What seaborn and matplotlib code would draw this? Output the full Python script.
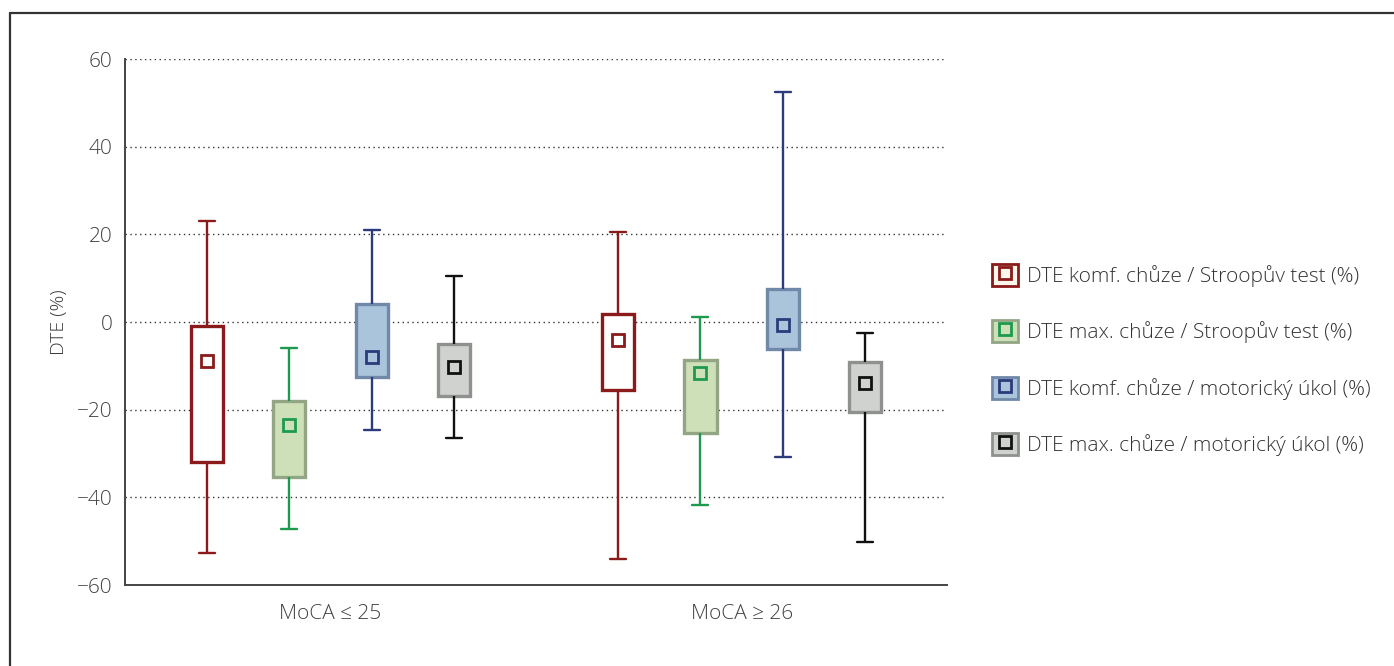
import numpy as np
import pandas as pd
import matplotlib
matplotlib.use("Agg")
import matplotlib.pyplot as plt
from matplotlib.patches import Patch
from matplotlib.lines import Line2D
from matplotlib.legend_handler import HandlerTuple
import seaborn as sns

# Groups and series
groups = ["MoCA \u2264 25", "MoCA \u2265 26"]
series = ["DTE komf. chůze / Stroopův test (%)",
          "DTE max. chůze / Stroopův test (%)",
          "DTE komf. chůze / motorický úkol (%)",
          "DTE max. chůze / motorický úkol (%)"]

# summary values, one list per group, in series order
whisk_low = [[-52.7, -47.2, -24.6, -26.5], [-54.0, -41.8, -30.8, -50.2]]
box_low   = [[-32.0, -35.4, -12.5, -16.9], [-15.5, -25.3, -6.2, -20.5]]
centre    = [[-8.9, -23.5, -8.0, -10.3], [-4.1, -11.6, -0.7, -13.9]]
box_high  = [[-0.9, -18.0, 4.1, -5.0], [1.8, -8.7, 7.5, -9.1]]
whisk_high = [[23.0, -5.9, 21.0, 10.5], [20.5, 1.1, 52.5, -2.5]]

face_cols = ["#ffffff", "#cde0b8", "#aac4dc", "#d0d2d0"]
legend_faces = ["#fdf6ea", "#cde0b8", "#aac4dc", "#d0d2d0"]
edge_cols = ["#8b1a1a", "#92a585", "#7189a8", "#8e918e"]
line_cols = ["#8b1a1a", "#1e9a4e", "#2c3b7c", "#111111"]

# five values per box -> quartiles fall exactly on the read values
rows = []
for gi, g in enumerate(groups):
    for si, s in enumerate(series):
        for v in [whisk_low[gi][si], box_low[gi][si], centre[gi][si],
                  box_high[gi][si], whisk_high[gi][si]]:
            rows.append({"group": g, "series": s, "value": v})
df = pd.DataFrame(rows)

sns.set_theme(style="white")
plt.rcParams["font.family"] = ["Open Sans", "DejaVu Sans"]
plt.rcParams["font.weight"] = "light"

fig = plt.figure(figsize=(13.94, 6.66), dpi=100)
ax = fig.add_axes([0.0897, 0.1216, 0.5897, 0.7898])

sns.boxplot(data=df, x="group", y="value", hue="series", order=groups,
            hue_order=series, whis=(0, 100), width=0.8, gap=0.61,
            linewidth=1.6, showfliers=False, legend=False, ax=ax)

for i, cont in enumerate(ax.containers):
    for b in cont.boxes:
        b.set_facecolor(face_cols[i])
        b.set_edgecolor(edge_cols[i])
        b.set_linewidth(2.4)
    for w in cont.whiskers:
        w.set_color(line_cols[i])
        w.set_linewidth(1.7)
    for c in cont.caps:
        c.set_color(line_cols[i])
        c.set_linewidth(1.7)
    for m in cont.medians:
        m.set_visible(False)

# centre markers
offsets = [-0.3, -0.1, 0.1, 0.3]
for gi in range(len(groups)):
    for si in range(len(series)):
        ax.plot(gi + offsets[si], centre[gi][si], marker="s", ms=8.5,
                mfc=face_cols[si], mec=line_cols[si], mew=2, zorder=5)

ax.set_xlim(-0.5, 1.5)
ax.set_ylim(-60, 60)
ax.set_yticks([-60, -40, -20, 0, 20, 40, 60])
ax.set_yticklabels(["\u221260", "\u221240", "\u221220", "0", "20", "40", "60"])
for y in [-40, -20, 0, 20, 40, 60]:
    ax.axhline(y, color="#333333", lw=1, ls=(0, (1, 2.5)), zorder=0)

ax.set_xlabel("")
ax.set_ylabel("DTE (%)", fontsize=14, color="#3a3a3a", labelpad=6,
              fontweight="light")
ax.tick_params(axis="both", direction="in", length=5, width=1.2,
               labelsize=15, labelcolor="#444444", color="#222222")
ax.tick_params(axis="y", pad=9)
ax.tick_params(axis="x", pad=14)
for side in ["top", "right"]:
    ax.spines[side].set_visible(False)
for side in ["left", "bottom"]:
    ax.spines[side].set_color("#444444")
    ax.spines[side].set_linewidth(1.4)

# legend
handles = []
for si in range(len(series)):
    p = Patch(facecolor=legend_faces[si], edgecolor=edge_cols[si] if si else line_cols[si], lw=2)
    m = Line2D([], [], ls="", marker="s", ms=8, mfc=legend_faces[si],
               mec=line_cols[si], mew=2)
    handles.append((p, m))
fig.legend(handles, series, loc="center left",
           bbox_to_anchor=(992 / 1394, 1 - 360 / 666), frameon=False,
           fontsize=15, labelcolor="#333333", handlelength=1.25,
           handleheight=1.25, labelspacing=1.6, handletextpad=0.45,
           borderpad=0, borderaxespad=0,
           handler_map={tuple: HandlerTuple(ndivide=1)})

# outer frame lines
fig.add_artist(Line2D([10 / 1394, 1], [1 - 13 / 666] * 2, color="#333333", lw=1.6))
fig.add_artist(Line2D([10 / 1394] * 2, [0, 1 - 13 / 666], color="#333333", lw=1.6))

fig.savefig("out.png", dpi=100)
